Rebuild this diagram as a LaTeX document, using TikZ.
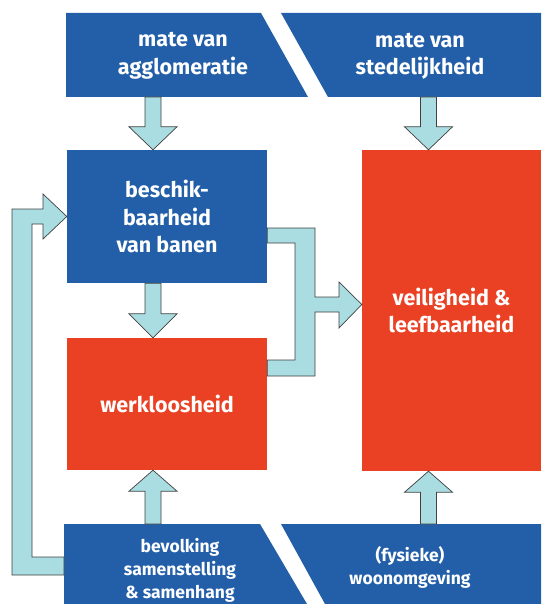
\documentclass[tikz,border=0pt]{standalone}
\usepackage{fontspec}
\setmainfont{Fira Sans}
\usetikzlibrary{calc}

\definecolor{vakblauw}{RGB}{35,95,168}
\definecolor{vakrood}{RGB}{234,65,36}
\definecolor{pijlblauw}{RGB}{170,221,226}

% vertical block arrow: start, tip, head length (negative = pointing down)
\newcommand{\blokpijl}[3]{%
	\draw[pijl] ($(#1)+(-8,0)$) -- ($(#2)+(-8,#3)$) -- ($(#2)+(-24,#3)$) -- (#2)
		-- ($(#2)+(24,#3)$) -- ($(#2)+(8,#3)$) -- ($(#1)+(8,0)$) -- cycle;}

\begin{document}
\begin{tikzpicture}[x=1pt,y=-1pt]
					\useasboundingbox (0,0) rectangle (541,604);
					\tikzstyle{pijl}=[fill=pijlblauw, draw=black!75, line width=0.7pt, line join=miter];
					\tikzstyle{tekst}=[text=white, font=\bfseries\fontsize{21.5}{27.5}\selectfont, align=center];
					\tikzstyle{klein}=[text=white, font=\bfseries\fontsize{17.5}{23}\selectfont, align=center];
					\tikzstyle{blok}=[tekst, inner sep=0pt, minimum width=200, minimum height=133];
					% bands at top and bottom
					\fill[vakblauw] (66,13) -- (261,13) -- (308,97) -- (66,97) -- cycle;
					\fill[vakblauw] (281,13) -- (541,13) -- (541,97) -- (328,97) -- cycle;
					\fill[vakblauw] (64,524) -- (260,524) -- (307,604) -- (64,604) -- cycle;
					\fill[vakblauw] (281,524) -- (541,524) -- (541,604) -- (325,604) -- cycle;
					\coordinate (boven) at (0,97);
					\coordinate (onder) at (0,524);
					\coordinate (terug) at (64,566);
					\coordinate (kolL) at (153,0);
					\coordinate (kolR) at (428.5,0);
					\path (183,56) node[tekst] (agglo) {mate van\\agglomeratie};
					\path (420,56) node[tekst] (sted) {mate van\\stedelijkheid};
					\path (180,570) node[klein] (bev) {bevolking\\samenstelling\\\& samenhang};
					\path (410,567) node[klein] (woon) {(fysieke)\\woonomgeving};
					% boxes
					\path (167,216.5) node[blok, fill=vakblauw] (banen) {beschik-\\baarheid\\van banen};
					\path (167,404) node[blok, fill=vakrood, minimum height=132] (werk) {werkloosheid};
					\path (451.5,310.5) node[blok, fill=vakrood, minimum width=179, minimum height=321] (veilig) {veiligheid \&\\leefbaarheid};
					% arrows
					\blokpijl{kolL |- boven}{kolL |- banen.north}{-23}
					\blokpijl{kolR |- boven}{kolR |- veilig.north}{-23}
					\blokpijl{kolL |- banen.south}{kolL |- werk.north}{-24}
					\blokpijl{kolL |- onder}{kolL |- werk.south}{21}
					\blokpijl{kolR |- onder}{kolR |- veilig.south}{21}
					\draw[pijl] ($(terug)+(0,-9)$) -- (32,557) -- (32,224) -- (43,224) -- (43,239) -- (banen.west)
						-- (43,194) -- (43,209) -- (12,209) -- (12,575) -- ($(terug)+(0,9)$) -- cycle;
					\draw[pijl] (banen.east |- 0,228) -- (315,228) -- (315,297) -- (339,297) -- (339,282) -- ($(veilig.west)+(0,-6)$)
						-- (339,328) -- (339,312) -- (315,312) -- (315,376) -- (werk.east |- 0,376) -- (werk.east |- 0,360)
						-- (295,360) -- (295,243) -- (banen.east |- 0,243) -- cycle;
					\end{tikzpicture}
\end{document}
